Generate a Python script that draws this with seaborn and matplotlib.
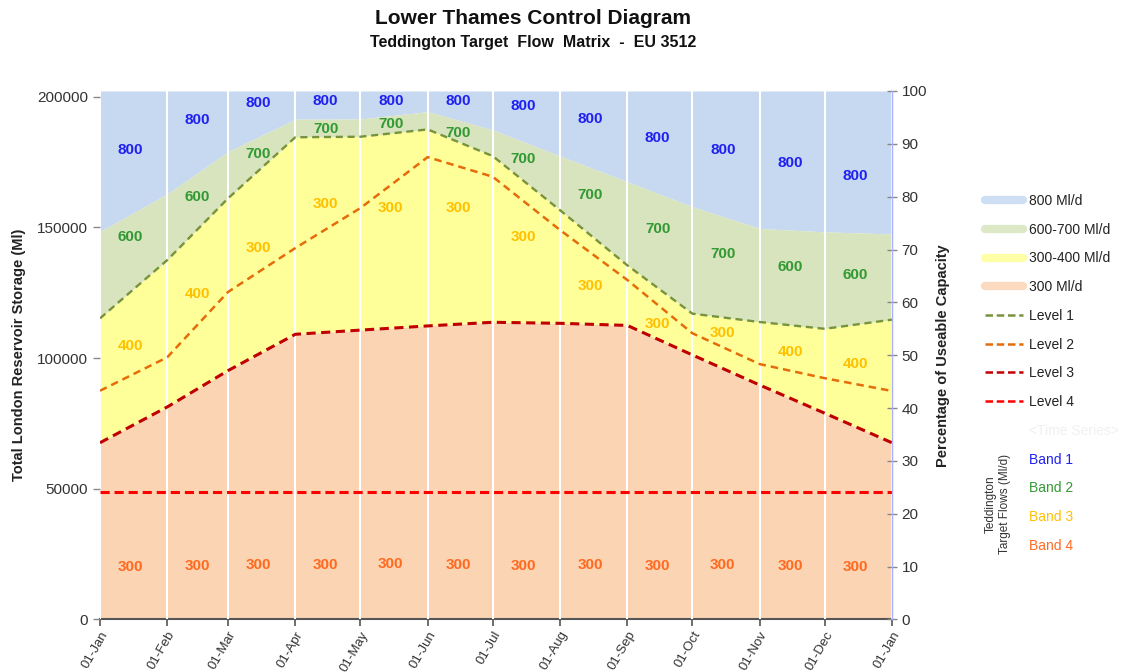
import matplotlib
matplotlib.use("Agg")
import matplotlib.pyplot as plt
import matplotlib.dates as mdates
import matplotlib.transforms as mtransforms
from matplotlib.lines import Line2D
import pandas as pd
import seaborn as sns

# month starts, Jan to Jan
month_starts = pd.date_range("2021-01-01", "2022-01-01", freq="MS")
label_dates = month_starts[:-1] + pd.Timedelta(days=14)

# storage (Ml) of each boundary at each month start
band2_top = [148400, 162800, 179000, 191400, 191500, 194300, 187300, 177300, 167500, 157900, 149600, 148300, 147500]
level_1 = [115200, 137500, 161100, 184500, 184700, 187500, 177300, 156600, 135500, 117000, 113800, 111200, 114700]
level_2 = [87500, 100300, 125300, 142100, 157400, 176900, 169400, 149000, 129900, 109500, 97700, 92300, 87400]
level_3 = [67600, 81300, 95200, 109100, 110700, 112300, 113700, 113300, 112500, 101200, 89700, 78900, 67600]
level_4 = [48900] * 13
useable_capacity = 202200

# Teddington target flow labels (mid-month)
band1_text = ["800"] * 12
band1_y = [179600, 191100, 197600, 198400, 198400, 198400, 196400, 191500, 184200, 179600, 174600, 169700]
band2_text = ["600", "600", "700", "700", "700", "700", "700", "700", "700", "700", "600", "600"]
band2_y = [146400, 161700, 178100, 187500, 189400, 186000, 176000, 162300, 149400, 139700, 134700, 131800]
band3_text = ["400", "400", "300", "300", "300", "300", "300", "300", "300", "300", "400", "400"]
band3_y = [104700, 124400, 142200, 158900, 157300, 157500, 146400, 127700, 112900, 109500, 102400, 97700]
band4_text = ["300"] * 12
band4_y = [20100, 20400, 20800, 20800, 21200, 20800, 20400, 20800, 20400, 20800, 20400, 20100]

fill_names = ["800 Ml/d", "600-700 Ml/d", "300-400 Ml/d", "300 Ml/d"]
fill_colors = ["#C6D9F1", "#D7E4BD", "#FFFF99", "#FBD4B4"]
level_names = ["Level 1", "Level 2", "Level 3", "Level 4"]
level_colors = ["#77933C", "#E46C0A", "#C00000", "#FF0000"]
band_names = ["Band 1", "Band 2", "Band 3", "Band 4"]
band_colors = ["#2020F0", "#339933", "#FFC000", "#FF6A20"]

sns.set_style("white")
plt.rcParams["font.family"] = ["Liberation Sans", "DejaVu Sans"]

fig = plt.figure(figsize=(11.23, 6.72), dpi=100)
ax = fig.add_axes([100 / 1123, 1 - 619.4 / 672, 792 / 1123, (619.4 - 91) / 672])

# filled bands
top = [useable_capacity] * len(month_starts)
ax.fill_between(month_starts, band2_top, top, color=fill_colors[0], lw=0, zorder=1)
ax.fill_between(month_starts, level_1, band2_top, color=fill_colors[1], lw=0, zorder=1)
ax.fill_between(month_starts, level_3, level_1, color=fill_colors[2], lw=0, zorder=1)
ax.fill_between(month_starts, 0, level_3, color=fill_colors[3], lw=0, zorder=1)

levels = pd.DataFrame({
    "date": list(month_starts) * 4,
    "storage": level_1 + level_2 + level_3 + level_4,
    "level": [n for n in level_names for _ in month_starts],
})
sns.lineplot(
    data=levels, x="date", y="storage", hue="level", style="level", size="level",
    palette=dict(zip(level_names, level_colors)),
    dashes=dict(zip(level_names, [(3, 2), (3, 2), (3, 1.8), (3, 1.6)])),
    sizes=dict(zip(level_names, [1.7, 1.8, 2.2, 2.2])),
    legend=False, ax=ax, zorder=3,
)

for texts, ys, color in zip([band1_text, band2_text, band3_text, band4_text],
                            [band1_y, band2_y, band3_y, band4_y], band_colors):
    for d, y, t in zip(label_dates, ys, texts):
        ax.text(d, y, t, color=color, fontsize=11, fontweight="bold",
                ha="center", va="center", zorder=4)

ax.set_xlim(month_starts[0], month_starts[-1])
ax.set_ylim(0, useable_capacity)
ax.set_yticks(range(0, 200001, 50000))
ax.set_xticks(month_starts)
ax.xaxis.set_major_formatter(mdates.DateFormatter("%d-%b"))
ax.xaxis.grid(True, color="white", lw=1.5)
ax.yaxis.grid(False)
ax.set_axisbelow(False)
shift = mtransforms.ScaledTranslation(8 / 100, 0, fig.dpi_scale_trans)
for lbl in ax.get_xticklabels():
    lbl.set_rotation(60)
    lbl.set_ha("right")
    lbl.set_rotation_mode("anchor")
    lbl.set_transform(lbl.get_transform() + shift)
ax.tick_params(axis="x", labelsize=9.5, colors="#555555", labelcolor="#333333",
               length=5, width=1.2, direction="out", bottom=True, pad=2)
ax.tick_params(axis="y", labelsize=11, colors="#888888", labelcolor="#333333",
               length=5, width=1, direction="out", left=True)
ax.set_xlabel("")
ax.set_ylabel("Total London Reservoir Storage (Ml)", fontsize=10.5,
              fontweight="bold", color="#222222", labelpad=8)
for side in ["top", "left", "right"]:
    ax.spines[side].set_visible(False)
ax.spines["bottom"].set_color("#555555")
ax.spines["bottom"].set_linewidth(1.5)

ax2 = ax.twinx()
ax2.set_ylim(0, 100)
ax2.set_yticks(range(0, 101, 10))
ax2.tick_params(axis="y", labelsize=11, colors="#888888", labelcolor="#333333",
                length=7, width=1, direction="inout", right=True)
ax2.set_ylabel("Percentage of Useable Capacity", fontsize=10.5,
               fontweight="bold", color="#222222", labelpad=6)
for side in ["top", "left", "bottom"]:
    ax2.spines[side].set_visible(False)
ax2.spines["right"].set_color("#A8B0FF")
ax2.spines["right"].set_linewidth(1)
ax2.grid(False)

fig.text(533 / 1123, 1 - 18 / 672, "Lower Thames Control Diagram", ha="center",
         va="center", fontsize=15, fontweight="bold", color="#111111")
fig.text(533 / 1123, 1 - 42 / 672, "Teddington Target  Flow  Matrix  -  EU 3512",
         ha="center", va="center", fontsize=11.5, fontweight="bold", color="#111111")

# legend
handles = [Line2D([], [], color=c, lw=6, alpha=0.85) for c in fill_colors]
handles += [Line2D([], [], color=c, lw=1.8, ls=(0, (3, 1.5))) for c in level_colors]
handles += [Line2D([], [], color="none")] * 5
labels = fill_names + level_names + ["<Time Series>"] + band_names
leg = fig.legend(handles, labels, loc="upper left", bbox_to_anchor=(985 / 1123, 1 - 194 / 672),
                 frameon=False, fontsize=10, handlelength=2.75, handletextpad=0.4,
                 labelspacing=1.06, borderpad=0, borderaxespad=0)
for txt, c in zip(leg.get_texts(), ["#222222"] * 8 + ["#F0F0F0"] + band_colors):
    txt.set_color(c)

fig.text(998 / 1123, 1 - 504 / 672, "Teddington\nTarget Flows (Ml/d)", rotation=90,
         ha="center", va="center", fontsize=8.5, color="#333333", multialignment="center")

fig.savefig("out.png", dpi=100)
